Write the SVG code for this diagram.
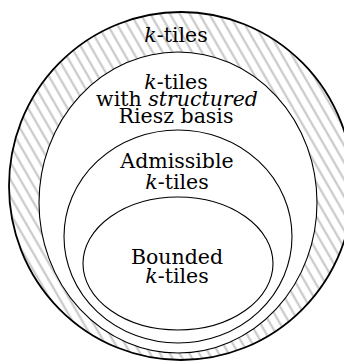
<svg xmlns="http://www.w3.org/2000/svg" width="344" height="361" viewBox="0 0 344 361">
  <style>
    .lbl { font-family: 'DejaVu Serif', 'Liberation Serif', serif; font-size: 20.5px; fill: #000; text-anchor: middle; }
    .it { font-style: italic; }
    .set { fill: #fff; stroke: #000; stroke-width: 1.1; }
  </style>
  <defs>
    <pattern id="hatch" patternUnits="userSpaceOnUse" width="8.5" height="20" patternTransform="rotate(-30)">
      <line x1="4.25" y1="-5" x2="4.25" y2="25" stroke="#c4c4c4" stroke-width="2"/>
    </pattern>
  </defs>
  <rect width="344" height="361" fill="#fff"/>
  <g id="ktiles">
    <ellipse cx="181" cy="186" rx="172" ry="174" fill="url(#hatch)" stroke="#000" stroke-width="1.8"/>
    <text class="lbl" x="176" y="42"><tspan class="it">k</tspan>-tiles</text>
  </g>
  <g id="structured">
    <ellipse class="set" cx="178" cy="202.5" rx="139" ry="150.5"/>
    <text class="lbl" x="176" y="89"><tspan class="it">k</tspan>-tiles</text>
    <text class="lbl" x="177" y="106">with <tspan class="it">structured</tspan></text>
    <text class="lbl" x="176" y="123">Riesz basis</text>
  </g>
  <g id="admissible">
    <ellipse class="set" cx="178" cy="236.5" rx="114" ry="106.5"/>
    <text class="lbl" x="177" y="168">Admissible</text>
    <text class="lbl" x="177" y="189"><tspan class="it">k</tspan>-tiles</text>
  </g>
  <g id="bounded">
    <ellipse class="set" cx="178" cy="263.5" rx="95" ry="66.5"/>
    <text class="lbl" x="177" y="264">Bounded</text>
    <text class="lbl" x="177" y="283"><tspan class="it">k</tspan>-tiles</text>
  </g>
  <g id="connectors"></g>
</svg>
